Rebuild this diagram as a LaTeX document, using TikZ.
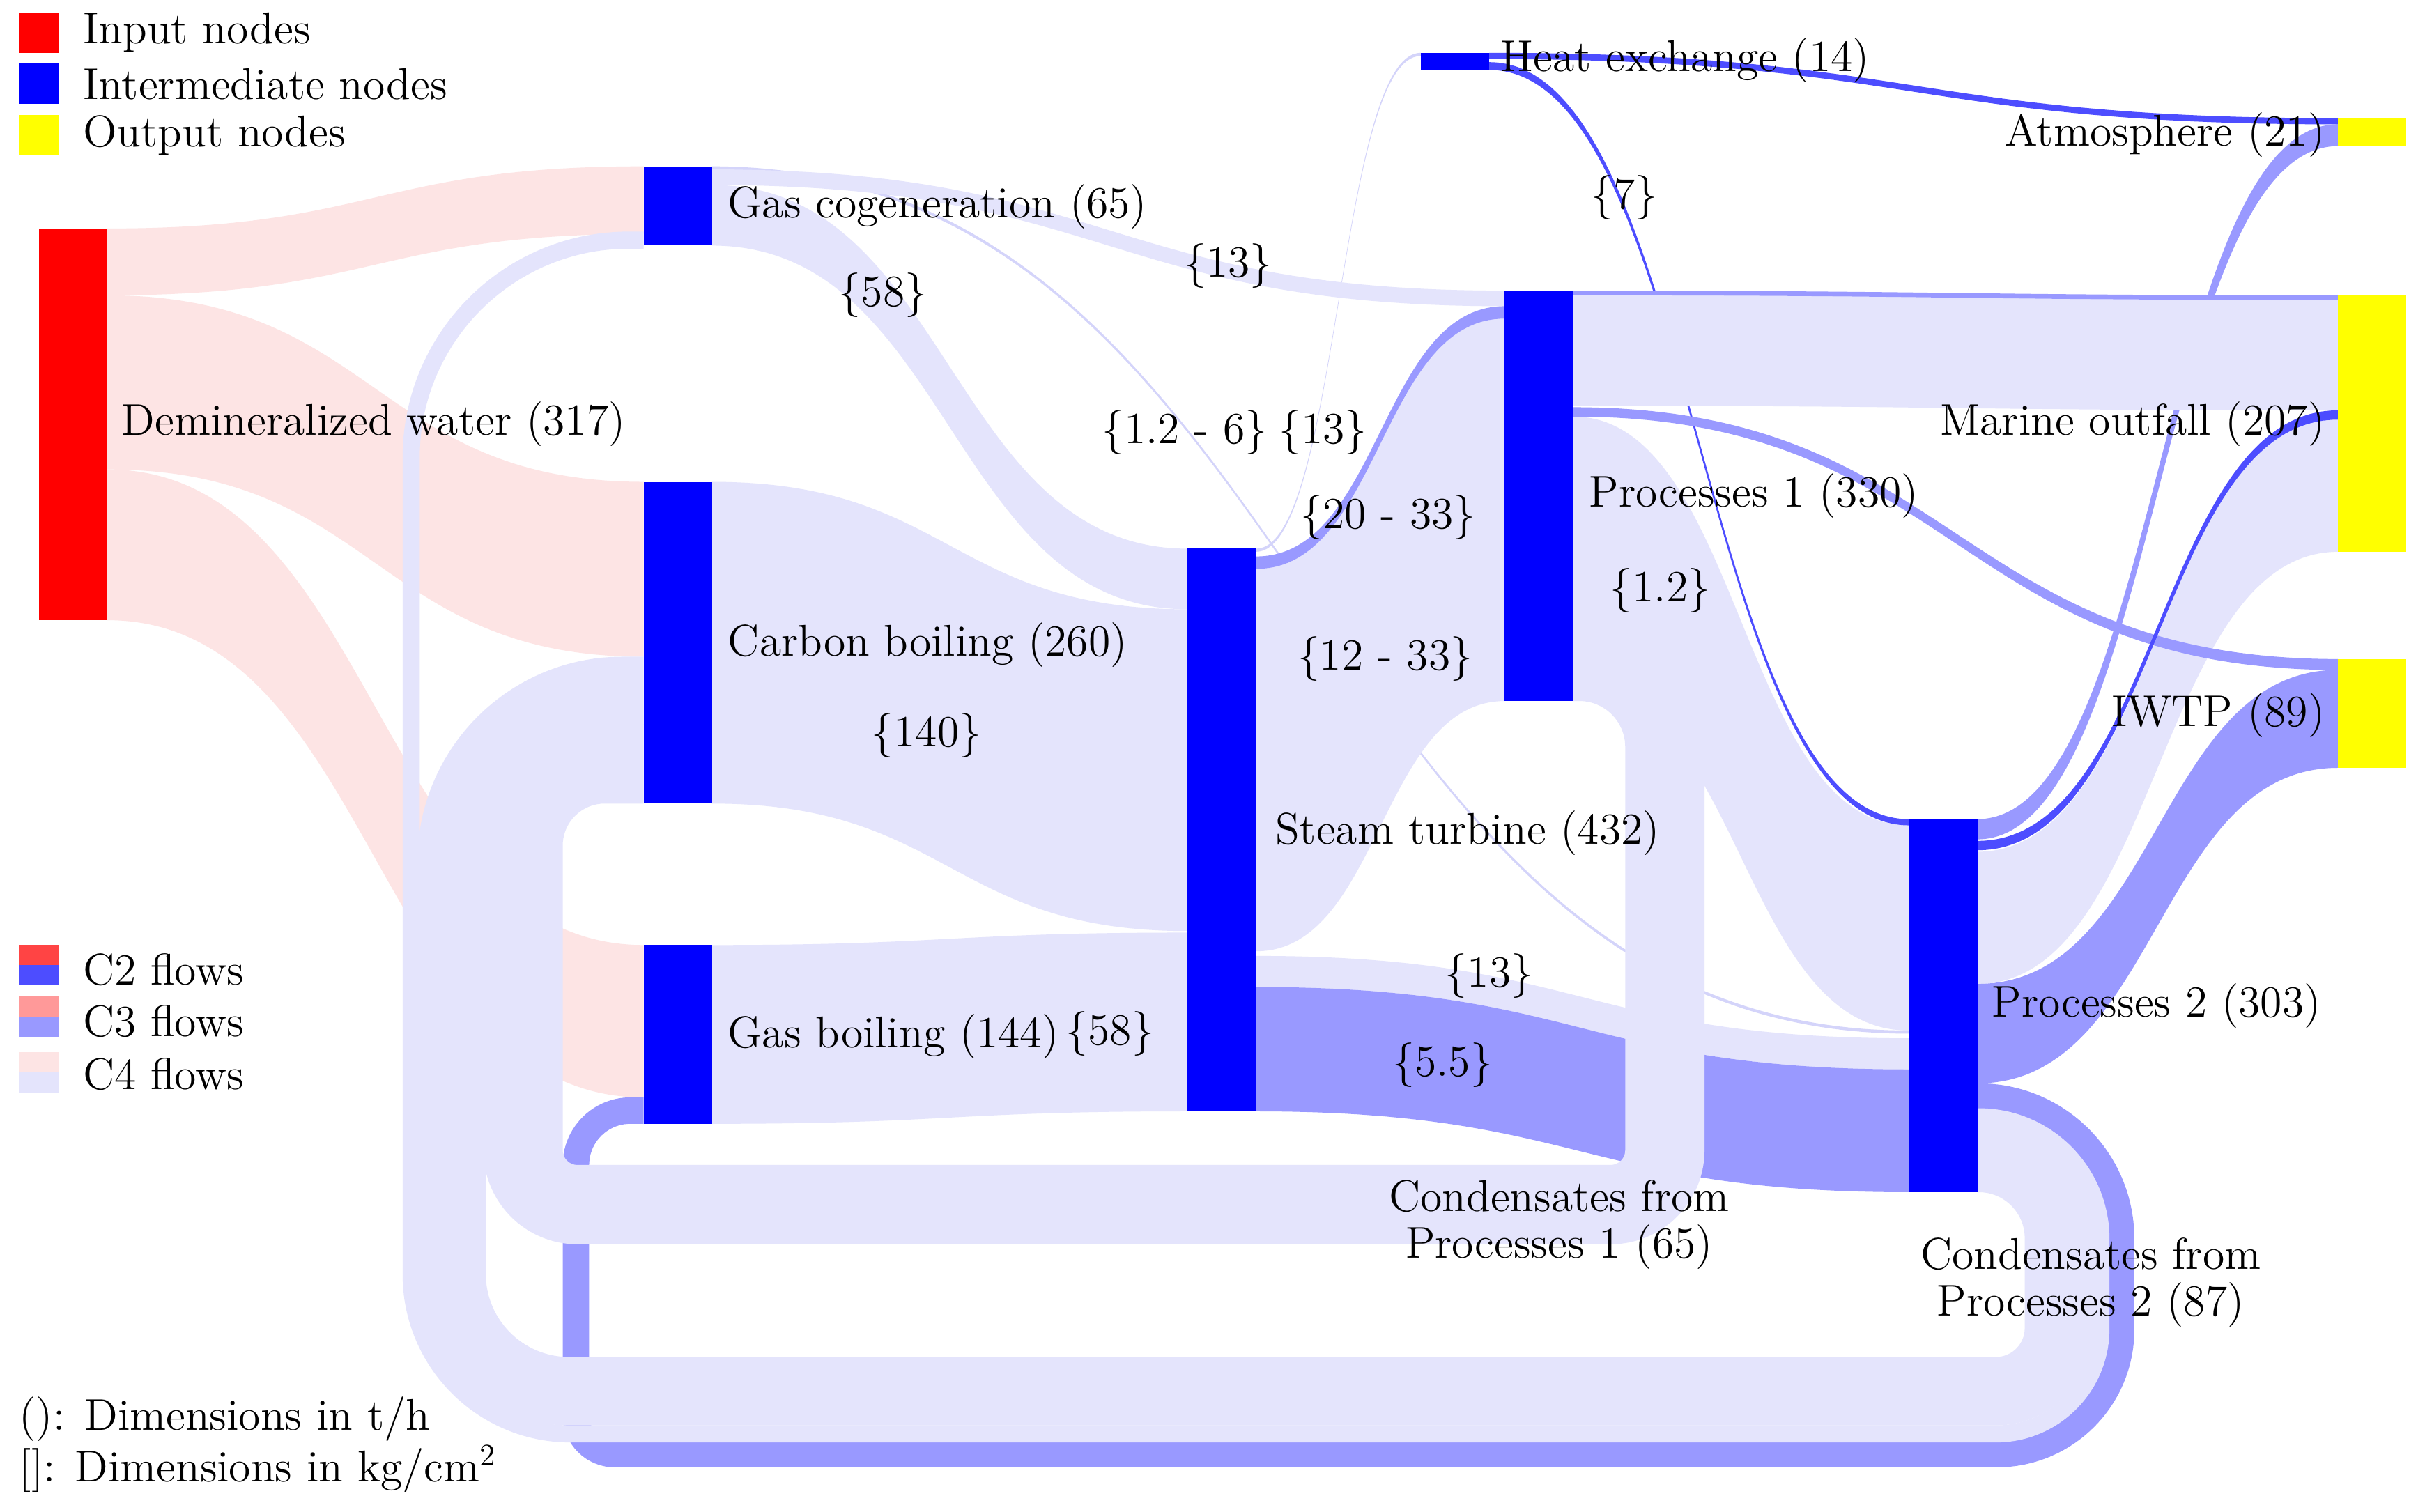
\documentclass[tikz,border=0pt]{standalone}
\usepackage{tikz}
\usetikzlibrary{calc, positioning, backgrounds}

\definecolor{srcred}{RGB}{255,0,0}
\definecolor{midblue}{RGB}{0,0,255}
\definecolor{outyellow}{RGB}{255,255,0}
\definecolor{ctwored}{RGB}{255,68,68}
\definecolor{ctwoblue}{RGB}{77,77,255}
\definecolor{cthreered}{RGB}{255,153,153}
\definecolor{cthreeblue}{RGB}{153,153,255}
\definecolor{cfourred}{RGB}{253,228,228}
\definecolor{cfourblue}{RGB}{228,228,252}
\definecolor{faintblue}{RGB}{212,212,250}

\newcommand{\lblfont}{\fontsize{14.3}{15}\selectfont}
% ribbon from the right side of #2 to the left side of #5 (offsets below the tops)
\newcommand{\sankeyflow}[7]{%
  \path ($(#2.north east)+(0,#3)$) coordinate (f1)
        ($(#2.north east)+(0,#4)$) coordinate (f2)
        ($(#5.north west)+(0,#6)$) coordinate (f3)
        ($(#5.north west)+(0,#7)$) coordinate (f4)
        ($(f1)!0.5!(f3)$) coordinate (fm);
  \fill[#1] (f1) .. controls (fm |- f1) and (fm |- f3) .. (f3) -- (f4)
        .. controls (fm |- f4) and (fm |- f2) .. (f2) -- cycle;
}

\begin{document}
\begin{tikzpicture}[x=0.5pt, y=-0.5pt,
    bar/.style={inner sep=0pt, outer sep=0pt, anchor=north west, minimum width=22pt},
    inbar/.style={bar, fill=srcred},
    midbar/.style={bar, fill=midblue},
    outbar/.style={bar, fill=outyellow},
    legbox/.style={inner sep=0pt, outer sep=0pt, anchor=north west, minimum width=13pt, minimum height=13pt},
    lbl/.style={font=\lblfont, inner sep=0pt, anchor=west},
    rlbl/.style={font=\lblfont, inner sep=0pt, anchor=east},
    prs/.style={font=\lblfont, inner sep=0pt, align=center}]
    \useasboundingbox (0,0) rectangle (1560,972.4);

    % Nodes (input, intermediate, output)
    \node[inbar, minimum height=126pt] (dw) at (25,147) {};
    \node[midbar, minimum height=25.5pt] (gc) at (414,107) {};
    \node[midbar, minimum height=103.5pt] (cb) at (414,310) {};
    \node[midbar, minimum height=57.5pt] (gb) at (414,608) {};
    \node[midbar, minimum height=181pt] (st) at (764,353) {};
    \node[midbar, minimum height=132pt] (p1) at (968,187) {};
    \node[midbar, minimum height=5.5pt] (hx) at (914,34) {};
    \node[midbar, minimum height=120pt] (p2) at (1228,527) {};
    \node[outbar, minimum height=9pt] (atm) at (1504,76) {};
    \node[outbar, minimum height=82.5pt] (mo) at (1504,190) {};
    \node[outbar, minimum height=35pt] (iw) at (1504,424) {};

    \begin{scope}[on background layer]
        \fill[white] (0,0) rectangle (1560,972.4);
        % Faint links
        \sankeyflow{faintblue}{gc}{0}{2}{p2}{136}{138}
        \sankeyflow{faintblue}{st}{0}{2}{hx}{0}{2}
        % C4 flows from the demineralized water
        \sankeyflow{cfourred}{dw}{0}{43}{gc}{0}{43.5}
        \sankeyflow{cfourred}{dw}{43}{155}{cb}{0}{112.5}
        \sankeyflow{cfourred}{dw}{155}{252}{gb}{0}{98}
        % C4 flows between the plant units
        \sankeyflow{cfourblue}{gc}{2}{12}{p1}{0}{10}
        \sankeyflow{cfourblue}{gc}{12}{51}{st}{0}{39}
        \sankeyflow{cfourblue}{cb}{0}{207}{st}{39}{246}
        \sankeyflow{cfourblue}{gb}{0}{115}{st}{247}{362}
        \sankeyflow{cfourblue}{st}{13}{259}{p1}{18}{264}
        \sankeyflow{cfourblue}{st}{262}{282}{p2}{141}{161}
        \sankeyflow{cfourblue}{p1}{81}{253}{p2}{4}{136}
        \sankeyflow{cfourblue}{p2}{21}{106}{mo}{80}{165}
        % lines passing under the outfall band
        \sankeyflow{ctwoblue}{hx}{6}{11}{p2}{0}{4}
        \sankeyflow{cthreeblue}{p2}{0}{13}{atm}{4}{18}
        \sankeyflow{cfourblue}{p1}{3}{74}{mo}{3}{74}
        % C3 and C2 flows
        \sankeyflow{cthreeblue}{st}{5}{13}{p1}{10}{18}
        \sankeyflow{cthreeblue}{p1}{0}{3}{mo}{0}{3}
        \sankeyflow{cthreeblue}{p1}{75}{81}{iw}{0}{7}
        \sankeyflow{cthreeblue}{p2}{106}{170}{iw}{7}{70}
        \sankeyflow{cthreeblue}{st}{282}{362}{p2}{161}{240}
        \sankeyflow{ctwoblue}{hx}{0}{4}{atm}{0}{4}
        \sankeyflow{ctwoblue}{p2}{14}{20}{mo}{74}{80}

        % Return loops (condensates)
        \draw[cthreeblue, line width=8.5pt] ($(p2.north east)+(0,178.5)$)
            [rounded corners=45.75pt] -- ++(92.5,0)
            [rounded corners=40pt] -- ++(0,230)
            [rounded corners=12.5pt] -- ++(-994,0)
            [rounded corners=17.5pt] -- ++(0,-221)
            [sharp corners] -- ($(gb.north west)+(0,106.5)$);
        \draw[cfourblue, line width=5.5pt] ($(p2.north east)+(0,191.5)$)
            [rounded corners=39.25pt] -- ++(79.5,0)
            [rounded corners=33.75pt] -- ++(0,204)
            [rounded corners=51.25pt] -- ++(-1087,0)
            [rounded corners=70pt] -- ++(0,-768)
            [sharp corners] -- ($(gc.north west)+(0,47.5)$);
        \draw[cfourblue, line width=22pt] ($(p2.north east)+(0,218)$)
            [rounded corners=25.75pt] -- ++(52.5,0)
            [rounded corners=20.25pt] -- ++(0,150)
            [rounded corners=37.75pt] -- ++(-1034,0)
            [rounded corners=55pt] -- ++(0,-450.5)
            [sharp corners] -- ($(cb.north west)+(0,134.5)$);
        \draw[cfourblue, line width=25.5pt] ($(p1.north east)+(0,238.5)$)
            [rounded corners=27.5pt] -- ++(59,0)
            [rounded corners=17.5pt] -- ++(0,349.5)
            [rounded corners=17.5pt] -- ++(-734.5,0)
            [rounded corners=26.25pt] -- ++(0,-283.5)
            [sharp corners] -- ($(cb.north west)+(0,181.5)$);
    \end{scope}

    % Node labels
    \node[lbl] (ldw) at (78,273) {Demineralized water (317)};
    \node[lbl] (lgc) at (468,133) {Gas cogeneration (65)};
    \node[lbl] (lcb) at (468,415) {Carbon boiling (260)};
    \node[lbl] (lgb) at (468,667) {Gas boiling (144)};
    \node[lbl] (lst) at (820,536) {Steam turbine (432)};
    \node[lbl] (lp1) at (1022,319) {Processes 1 (330)};
    \node[lbl] (lhx) at (965,39) {Heat exchange (14)};
    \node[lbl] (lp2) at (1281,647) {Processes 2 (303)};
    \node[rlbl] (latm) at (1496,87) {Atmosphere (21)};
    \node[rlbl] (lmo) at (1496,273) {Marine outfall (207)};
    \node[rlbl] (liw) at (1496,460) {IWTP (89)};
    \node[prs] (lc1) at (1003,788) {Condensates from\\Processes 1 (65)};
    \node[prs] (lc2) at (1345,825) {Condensates from\\Processes 2 (87)};

    % Pressure labels
    \node[prs] (k58a) at (568,190) {\{58\}};
    \node[prs] (k13a) at (790,171) {\{13\}};
    \node[prs] (k126) at (762,278) {\{1.2 - 6\}};
    \node[prs] (k13b) at (851,278) {\{13\}};
    \node[prs] (k2033) at (893,333) {\{20 - 33\}};
    \node[prs] (k1233) at (891,424) {\{12 - 33\}};
    \node[prs] (k140) at (596,473) {\{140\}};
    \node[prs] (k58b) at (714,665) {\{58\}};
    \node[prs] (k7) at (1045,127) {\{7\}};
    \node[prs] (k12) at (1068,380) {\{1.2\}};
    \node[prs] (k13c) at (958,628) {\{13\}};
    \node[prs] (k55) at (928,685) {\{5.5\}};

    % Legend
    \node[legbox, fill=srcred] (kin) at (12,8) {};
    \node[lbl] (kint) at (53,21) {Input nodes};
    \node[legbox, fill=midblue] (kmid) at (12,41) {};
    \node[lbl] (kmidt) at (53,54) {Intermediate nodes};
    \node[legbox, fill=outyellow] (kout) at (12,74) {};
    \node[lbl] (koutt) at (53,87) {Output nodes};
    \node[legbox, fill=ctwored, minimum height=6.5pt] (kc2a) at (12,608) {};
    \node[legbox, fill=ctwoblue, minimum height=6.5pt] (kc2b) at (12,621) {};
    \node[lbl] (kc2t) at (53,624) {C2 flows};
    \node[legbox, fill=cthreered, minimum height=6.5pt] (kc3a) at (12,641) {};
    \node[legbox, fill=cthreeblue, minimum height=6.5pt] (kc3b) at (12,654) {};
    \node[lbl] (kc3t) at (53,657) {C3 flows};
    \node[legbox, fill=cfourred, minimum height=6.5pt] (kc4a) at (12,677) {};
    \node[legbox, fill=cfourblue, minimum height=6.5pt] (kc4b) at (12,690) {};
    \node[lbl] (kc4t) at (53,691) {C4 flows};
    \node[lbl] (kn1) at (12,913) {(): Dimensions in t/h};
    \node[lbl] (kn2) at (12,945) {[]: Dimensions in kg/cm\textsuperscript{2}};
\end{tikzpicture}
\end{document}
